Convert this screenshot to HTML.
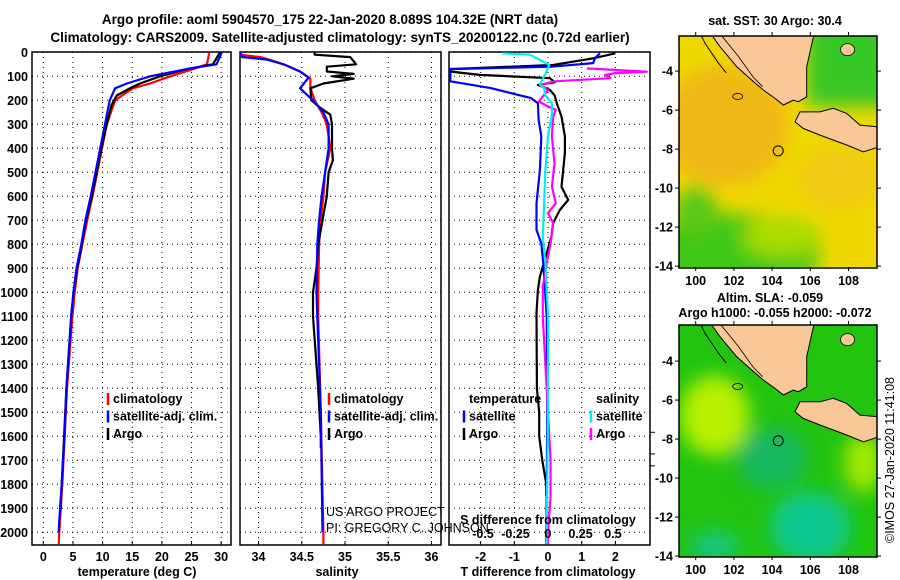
<!DOCTYPE html>
<html><head><meta charset="utf-8"><style>
html,body{margin:0;padding:0;background:#fff}
svg{display:block;font-family:"Liberation Sans",sans-serif;font-weight:bold}
</style></head><body>
<svg id="c" width="900" height="580" viewBox="0 0 900 580">
<defs>
<filter id="bl" x="-50%" y="-50%" width="200%" height="200%"><feGaussianBlur stdDeviation="9"/></filter>
<clipPath id="cm1"><rect x="679" y="36" width="198" height="231"/></clipPath>
<clipPath id="cm2"><rect x="679" y="325" width="198" height="232"/></clipPath>
</defs>
<text x="330" y="24" font-size="13.5" text-anchor="middle">Argo profile: aoml 5904570_175 22-Jan-2020 8.089S 104.32E (NRT data)</text>
<text x="340" y="42" font-size="13.5" text-anchor="middle">Climatology: CARS2009. Satellite-adjusted climatology: synTS_20200122.nc (0.72d earlier)</text>
<g id="g"></g>
</svg>
<script>
// ---- data: temperature profiles (depth m, deg C)
const tClimDepth=[0,50,70,100,130,150,200,300,400,500,600,700,800,900,1000,1100,1400,1600,1800,2000,2050];
const tClimVal=[28,27.6,25.3,21.4,18,15.1,12.1,10.7,9.9,9.1,8.3,7.4,6.6,5.8,5.3,4.9,4,3.6,3.2,2.7,2.6];
const tSatDepth=[0,50,70,100,130,150,200,300,400,500,600,700,800,900,1000,1100,1400,1600,1800,1950,2000];
const tSatVal=[30.1,29.2,24.2,18,14.1,12.1,11.2,10.4,9.6,8.8,8,7.1,6.4,5.6,5.1,4.7,3.9,3.6,3.1,2.7,2.6];
const tArgoDepth=[0,50,70,100,130,150,180,220,300,400,500,600,700,800,900,1000,1100,1400,1600,1800,1900];
const tArgoVal=[29.8,28.6,24.2,19.7,16.3,14.6,12.4,11.5,10.7,9.8,9,8.2,7.2,6.5,5.7,5.1,4.7,3.9,3.5,3.1,2.9];
// ---- salinity profiles
const sClimDepth=[0,10,20,40,60,80,100,110,150,200,250,300,350,400,500,600,700,800,1000,1100,1500,2000,2050];
const sClimVal=[33.79,33.79,34.02,34.21,34.36,34.48,34.56,34.6,34.6,34.65,34.73,34.79,34.81,34.83,34.77,34.75,34.72,34.7,34.69,34.69,34.72,34.75,34.75];
const sSatDepth=[0,20,30,50,80,105,150,200,250,300,400,500,600,700,800,1000,1100,1500,2000];
const sSatVal=[33.79,33.81,34.09,34.29,34.48,34.58,34.48,34.63,34.75,34.81,34.81,34.77,34.73,34.7,34.68,34.67,34.68,34.72,34.74];
const sArgoDepth=[0,10,20,50,60,80,90,100,110,130,150,200,230,260,300,400,450,500,600,700,800,900,1000,1100,1400,1600,1650];
const sArgoVal=[34.65,34.65,35.06,35.13,34.79,34.79,35.1,34.85,35.1,34.75,34.6,34.61,34.71,34.83,34.85,34.85,34.86,34.81,34.79,34.74,34.69,34.67,34.63,34.63,34.69,34.72,34.72];
// ---- difference panel
const dTArgoDepth=[4,25,53,70,80,94,108,125,136,157,180,212,268,351,420,490,560,615,657,712,768,837,934,990,1087,1400,1500,1600,1700,1800,1850];
const dTArgoVal=[2.0,1.34,0.15,-2.91,-2.91,-2.02,0.06,0.2,-0.3,0.06,0.2,0.26,0.4,0.5,0.5,0.45,0.4,0.6,0.35,0.15,0.1,-0.04,-0.24,-0.3,-0.34,-0.33,-0.26,-0.26,-0.17,-0.05,-0.05];
const dTSatDepth=[4,25,45,60,70,80,121,149,177,191,212,280,351,490,629,740,796,879,1101,1500,2000,2050];
const dTSatVal=[1.54,1.39,1.34,0.1,-2.9,-2.9,-2.9,-1.7,-0.9,-0.5,-0.3,-0.28,-0.2,-0.24,-0.34,-0.34,-0.2,-0.14,-0.04,-0.02,-0.05,-0.05];
const dSSatDepth=[4,10,32,53,90,121,136,150,180,212,260,351,490,629,768,879,1101,1500,2000,2050];
const dSSatVal=[-0.35,-0.14,-0.06,0.01,-0.02,-0.05,-0.06,-0.03,-0.02,0.03,0.03,0.0,-0.02,-0.03,-0.04,-0.02,0.0,0.0,-0.01,-0.01];
const dSArgoDepth=[67,81,88,94,108,121,136,157,205,220,240,268,351,462,560,629,670,712,796,879,976,1101,1500,1700,1850,2000,2050];
const dSArgoVal=[0.3,0.76,0.5,0.44,0.48,0.05,-0.06,0.0,-0.07,-0.02,0.06,0.04,0.03,0.05,0.03,0.06,0.0,0.04,0.02,-0.01,-0.04,-0.04,0.0,0.02,0.02,0.0,0.0];
// ---- axes ticks
const depthTicks=[0,100,200,300,400,500,600,700,800,900,1000,1100,1200,1300,1400,1500,1600,1700,1800,1900,2000];
const tTicks=[0,5,10,15,20,25,30];
const sTicks=[34,34.5,35,35.5,36];
const dTTicks=[-2,-1,0,1,2];
const dSTicks=[-0.5,-0.25,0,0.25,0.5];
const lonTicks=[100,102,104,106,108];
const latTicks=[-4,-6,-8,-10,-12,-14];
const argoLon=104.32, argoLat=-8.089;

const NS="http://www.w3.org/2000/svg";
const G=document.getElementById('g');
function mk(tag,attrs,parent){const e=document.createElementNS(NS,tag);for(const k in attrs)e.setAttribute(k,attrs[k]);(parent||G).appendChild(e);return e;}
function txt(x,y,s,size,anchor,parent){const e=mk('text',{x:x,y:y,'font-size':size,'text-anchor':anchor||'middle'},parent);e.textContent=s;return e;}
const Y=d=>52.3+d*0.24;
const xT=v=>43.3+v*5.93;
const xS=v=>258.5+(v-34)*86.5;
const xDT=v=>548+v*33.7;
const xDS=v=>548+v*130;
const TOP=52, BOT=545;

function panel(x0,x1,name,xticks,xf,labels){
  const g=mk('g',{});
  
  
  depthTicks.forEach(d=>{mk('line',{x1:x0,x2:x1,y1:Y(d),y2:Y(d),stroke:'#000','stroke-width':1,'stroke-dasharray':'1 4'},g);});
  xticks.forEach(v=>{const x=xf(v);mk('line',{x1:x,x2:x,y1:TOP,y2:BOT,stroke:'#000','stroke-width':1,'stroke-dasharray':'1 4'},g);
    mk('line',{x1:x,x2:x,y1:BOT,y2:BOT-4,stroke:'#000'},g);
    if(labels){txt(x,561,String(v),12.5,'middle',g);}});
  mk('rect',{x:x0,y:TOP,width:x1-x0,height:BOT-TOP,fill:'none',stroke:'#000','stroke-width':1.5},g);
  return g;
}
function line(depths,vals,xf,color,name,w){
  let p='';depths.forEach((d,i)=>{p+=(i?'L':'M')+xf(vals[i]).toFixed(1)+' '+Y(d).toFixed(1);});
  const e=mk('path',{d:p,fill:'none',stroke:color,'stroke-width':w||2.2,'stroke-linejoin':'round'});
  
  
}
const p1=panel(32,231,'temperature-panel',tTicks,xT,true);
depthTicks.forEach(d=>{txt(28,Y(d)+4.5,String(d),12.5,'end',p1);});
const xl1=txt(137,576,'temperature (deg C)',12.5,'middle');


line(tClimDepth,tClimVal,xT,'#f00','temp-climatology-line');
line(tArgoDepth,tArgoVal,xT,'#000','temp-argo-line');
line(tSatDepth,tSatVal,xT,'#00f','temp-satellite-line');
panel(240,441,'salinity-panel',sTicks,xS,true);
const xl2=txt(337,576,'salinity',12.5,'middle');


line(sClimDepth,sClimVal,xS,'#f00','sal-climatology-line');
line(sArgoDepth,sArgoVal,xS,'#000','sal-argo-line');
line(sSatDepth,sSatVal,xS,'#00f','sal-satellite-line');
panel(449,650,'difference-panel',dTTicks,xDT,true);
const xl3=txt(548,576,'T difference from climatology',12.5,'middle');


line(dTArgoDepth,dTArgoVal,xDT,'#000','tdiff-argo-line');
line(dTSatDepth,dTSatVal,xDT,'#00f','tdiff-satellite-line');
line(dSArgoDepth,dSArgoVal,xDS,'#f0f','sdiff-argo-line');
line(dSSatDepth,dSSatVal,xDS,'#0ee','sdiff-satellite-line');
[1450,1540,1590].forEach(d=>mk('line',{x1:650,x2:655,y1:Y(d)+32,y2:Y(d)+32,stroke:'#000'}));
const sl=txt(548,524,'S difference from climatology',12.5,'middle');


dSTicks.forEach(v=>{txt(xDS(v),538,String(v),12.5,'middle');});

function legend(x,y,items,name){
  const g=mk('g',{});
  
  
  items.forEach((it,i)=>{const yy=y+i*17.5;
    if(it[1])mk('line',{x1:x,x2:x,y1:yy-10,y2:yy+2,stroke:it[1],'stroke-width':2.5},g);
    txt(x+5,yy,it[0],12.5,'start',g);});
}
legend(108,403,[['climatology','#f00'],['satellite-adj. clim.','#00f'],['Argo','#000']],'temperature-legend');
legend(329,403,[['climatology','#f00'],['satellite-adj. clim.','#00f'],['Argo','#000']],'salinity-legend');
legend(464,403,[['temperature',null],['satellite','#00f'],['Argo','#000']],'tdiff-legend');
legend(591,403,[['salinity',null],['satellite','#0ee'],['Argo','#f0f']],'sdiff-legend');
const pr=mk('g',{});


[['US ARGO PROJECT',552],['PI: GREGORY C. JOHNSON',568]].forEach(a=>{const t=txt(326,a[1]-36,a[0],12.5,'start',pr);t.setAttribute('font-weight','normal');});

const lonX=l=>695.7+(l-100)*19.1;
function mapPanel(top,latTop,clip,name,isSST){
  const latY=la=>top+(latTop-la)*19.5;
  const g=mk('g',{});
  
  
  const h=231;
  const inner=mk('g',{'clip-path':'url(#'+clip+')'},g);
  if(isSST){
    mk('rect',{x:679,y:top,width:198,height:h+1,fill:'#eed800'},inner);
    const f=mk('g',{filter:'url(#bl)'},inner);
    mk('ellipse',{cx:lonX(101.5),cy:latY(-6.8),rx:65,ry:60,fill:'#f0b818'},f);
    mk('ellipse',{cx:lonX(107.5),cy:latY(-9.5),rx:40,ry:30,fill:'#f0c818'},f);
    mk('ellipse',{cx:lonX(101.8),cy:latY(-13.4),rx:90,ry:40,fill:'#40c818'},f);
    mk('ellipse',{cx:lonX(100),cy:latY(-11.2),rx:22,ry:25,fill:'#58c818'},f);
    mk('rect',{x:lonX(105.8),y:top-20,width:120,height:latY(-5.8)-top+20,fill:'#38c828'},f);
    mk('ellipse',{cx:lonX(104.5),cy:latY(-12.5),rx:40,ry:20,fill:'#a8dc00'},f);
  } else {
    mk('rect',{x:679,y:top,width:198,height:h+1,fill:'#22c410'},inner);
    const f=mk('g',{filter:'url(#bl)'},inner);
    mk('ellipse',{cx:lonX(101),cy:latY(-6.8),rx:35,ry:40,fill:'#b8f000'},f);
    mk('ellipse',{cx:lonX(108.8),cy:latY(-9.2),rx:20,ry:30,fill:'#a0e800'},f);
    mk('ellipse',{cx:lonX(106),cy:latY(-12.5),rx:40,ry:35,fill:'#10c890'},f);
    mk('ellipse',{cx:lonX(101),cy:latY(-13.5),rx:25,ry:15,fill:'#18c480'},f);
    mk('ellipse',{cx:lonX(104),cy:latY(-9),rx:35,ry:30,fill:'#16b860'},f);
  }
  const sum=[[100.84,-2.0],[100.84,-2.15],[101.27,-2.75],[102.15,-3.78],[102.93,-4.46],[103.54,-4.97],[104.15,-5.4],[104.59,-5.74],[105.11,-5.49],[105.37,-5.57],[105.81,-5.32],[105.81,-3.78],[106.16,-2.24],[106.3,-2.0]];
  const jav=[[105.2,-6.6],[105.46,-6.09],[106.51,-6.09],[107.2,-5.91],[107.9,-6.17],[108.6,-6.77],[109.6,-6.86],[109.6,-7.88],[108.78,-8.14],[107.9,-7.79],[106.51,-7.28],[105.63,-6.94]];
  const pts=a=>a.map(p=>lonX(p[0]).toFixed(1)+','+latY(p[1]).toFixed(1)).join(' ');
  const s=mk('polygon',{points:pts(sum),fill:'#f9c896',stroke:'#000','stroke-width':1},inner);
  
  
  const j=mk('polygon',{points:pts(jav),fill:'#f9c896',stroke:'#000','stroke-width':1},inner);
  
  
  mk('ellipse',{cx:lonX(107.95),cy:latY(-2.9),rx:7,ry:6,fill:'#f9c896',stroke:'#000','stroke-width':0.8},inner);
  mk('polyline',{points:pts([[100.2,-2.0],[100.5,-2.6],[101.2,-3.6],[101.6,-4.1]]),fill:'none',stroke:'#000','stroke-width':1},inner);
  mk('polyline',{points:pts([[101.2,-2.0],[102.2,-3.2],[103,-4.3],[103.5,-4.8]]),fill:'none',stroke:'#000','stroke-width':0.8},inner);
  mk('ellipse',{cx:lonX(102.2),cy:latY(-5.3),rx:5,ry:3,fill:'none',stroke:'#000','stroke-width':0.8},inner);
  const c=mk('circle',{cx:lonX(argoLon),cy:latY(argoLat),r:5,fill:'none',stroke:'#000','stroke-width':1},g);
  
  
  mk('rect',{x:679,y:top,width:198,height:h+1,fill:'none',stroke:'#000','stroke-width':1.5},g);
  lonTicks.forEach(l=>{mk('line',{x1:lonX(l),x2:lonX(l),y1:top+h,y2:top+h+4,stroke:'#000'},g);mk('line',{x1:lonX(l),x2:lonX(l),y1:top,y2:top-4,stroke:'#000'},g);txt(lonX(l),top+h+18,String(l),12.5,'middle',g);});
  latTicks.forEach(la=>{const y=latY(la);mk('line',{x1:675,x2:679,y1:y,y2:y,stroke:'#000'},g);mk('line',{x1:877,x2:881,y1:y,y2:y,stroke:'#000'},g);txt(673,y+4.5,String(la),12.5,'end',g);});
  return g;
}
mapPanel(36,-2.2,'cm1','sst-map',true);
mapPanel(325,-2.15,'cm2','sla-map',false);
const t1=txt(775,25,'sat. SST: 30 Argo: 30.4',12.5,'middle');


const t2=txt(770,302,'Altim. SLA: -0.059',12.5,'middle');


const t3=txt(775,317,'Argo h1000: -0.055 h2000: -0.072',12.5,'middle');


const cr=txt(0,0,'©IMOS 27-Jan-2020 11:41:08',12.5,'middle');
cr.setAttribute('transform','translate(894,460) rotate(-90)');
cr.setAttribute('font-weight','normal');


</script>
</body></html>
